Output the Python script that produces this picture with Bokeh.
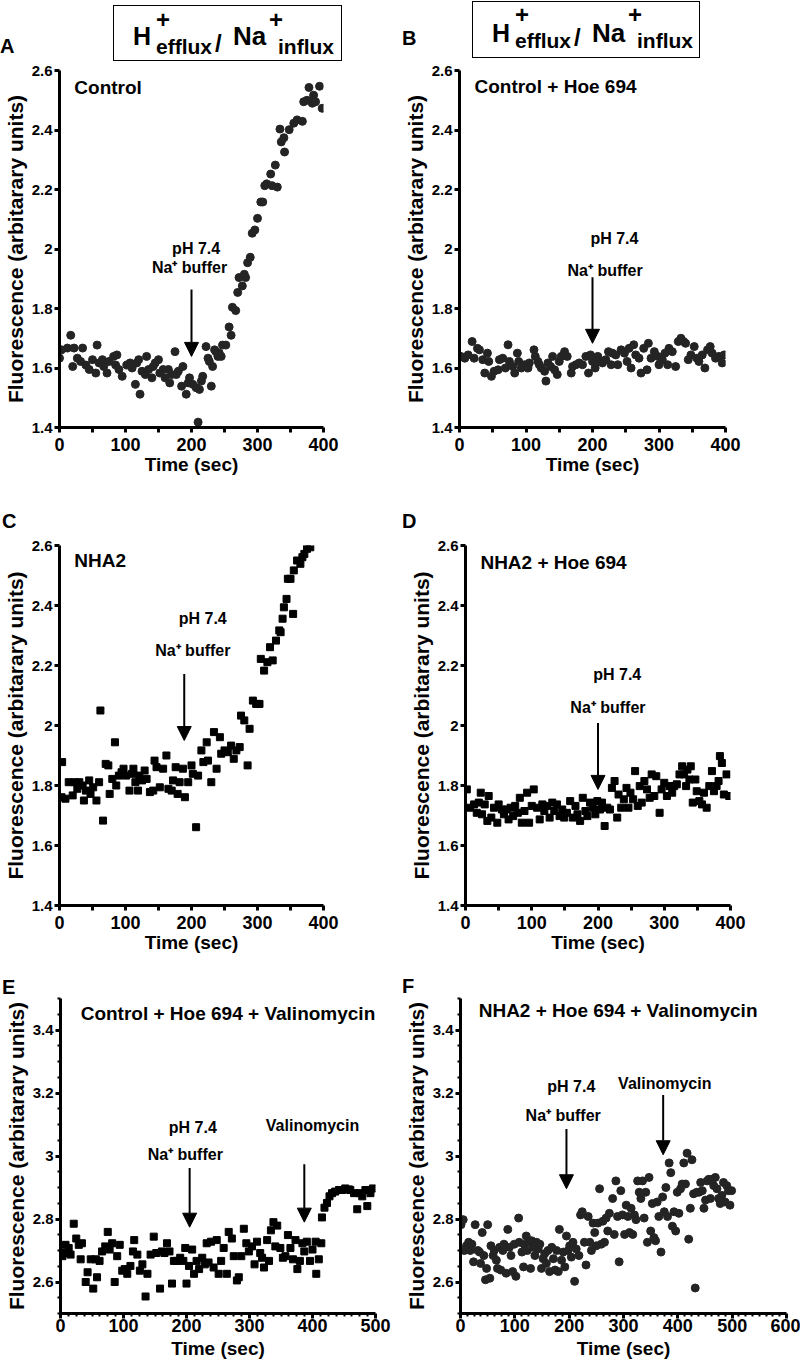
from bokeh.plotting import figure
from bokeh.layouts import row, column
from bokeh.models import Range1d, FixedTicker, CustomJSTickFormatter, Arrow, NormalHead, Div
from bokeh.core.properties import value
from bokeh.embed import file_html
from bokeh.resources import INLINE

FONT = "Liberation Sans"

# ---------------- data (time in s, fluorescence) ----------------
a_points = [(0,1.633),(3,1.661),(12,1.667),(17,1.71),(20,1.605),(22,1.667),(27,1.633),(32,1.622),(35,1.667),(40,1.61),
            (45,1.595),(50,1.628),(55,1.583),(57,1.677),(60,1.617),(65,1.628),(67,1.605),(72,1.583),(75,1.622),(82,1.639),
            (85,1.61),(87,1.644),(90,1.595),(95,1.572),(102,1.61),(107,1.617),(110,1.6),(115,1.545),(117,1.617),(120,1.628),
            (122,1.512),(125,1.589),(130,1.578),(132,1.639),(135,1.595),(140,1.567),(142,1.605),(145,1.617),(150,1.628),(152,1.583),
            (157,1.595),(160,1.567),(165,1.595),(167,1.55),(170,1.578),(175,1.655),(177,1.578),(180,1.589),(185,1.539),(187,1.605),
            (192,1.512),(195,1.55),(197,1.567),(202,1.545),(207,1.534),(210,1.418),(212,1.528),(215,1.556),(217,1.572),(222,1.672),
            (225,1.633),(227,1.622),(230,1.539),(232,1.605),(235,1.661),(237,1.655),(240,1.639),(242,1.65),(245,1.639),(247,1.677),
            (252,1.677),(257,1.738),(260,1.71),(262,1.804),(267,1.793),(270,1.854),(272,1.904),(277,1.876),(280,1.915),(282,1.904),
            (285,1.954),(289,1.972),(292,2.053),(296,2.064),(300,2.103),(305,2.158),(308,2.158),(311,2.213),(314,2.219),(320,2.252),
            (322,2.213),(327,2.282),(330,2.208),(334,2.403),(336,2.36),(340,2.374),(341,2.326),(348,2.401),(355,2.423),(360,2.434),
            (368,2.429),(370,2.495),(375,2.5),(378,2.543),(383,2.49),(385,2.517),(388,2.495),(394,2.547),(398,2.473)]

b_points = [(2,1.639),(8,1.633),(13,1.644),(19,1.689),(22,1.633),(27,1.666),(30,1.661),(35,1.628),(38,1.583),(42,1.65),
            (44,1.622),(48,1.572),(52,1.589),(58,1.594),(60,1.628),(65,1.633),(69,1.6),(73,1.678),(75,1.622),(80,1.605),
            (83,1.583),(87,1.65),(89,1.622),(93,1.6),(98,1.611),(103,1.6),(105,1.617),(112,1.661),(114,1.639),(118,1.622),
            (120,1.611),(123,1.6),(128,1.589),(130,1.556),(133,1.617),(137,1.605),(140,1.639),(143,1.594),(147,1.578),(150,1.622),
            (153,1.639),(158,1.655),(162,1.639),(168,1.583),(170,1.605),(175,1.611),(180,1.617),(185,1.611),(190,1.639),(194,1.583),
            (197,1.644),(200,1.622),(204,1.6),(208,1.639),(210,1.622),(215,1.617),(220,1.628),(224,1.655),(228,1.611),(230,1.65),
            (235,1.644),(238,1.611),(243,1.661),(248,1.65),(252,1.622),(255,1.666),(258,1.6),(262,1.678),(265,1.644),(270,1.633),
            (273,1.583),(277,1.666),(282,1.594),(284,1.683),(288,1.633),(293,1.655),(298,1.639),(300,1.611),(305,1.628),(309,1.65),
            (313,1.611),(315,1.666),(320,1.655),(325,1.605),(329,1.689),(333,1.7),(337,1.689),(340,1.683),(344,1.628),(348,1.644),
            (353,1.672),(357,1.633),(360,1.622),(365,1.644),(369,1.6),(373,1.661),(377,1.672),(380,1.65),(385,1.633),(390,1.639),
            (395,1.617),(398,1.644)]

c_points = [(4,1.878),(3,1.761),(9,1.756),(14,1.811),(20,1.767),(23,1.811),(27,1.789),(30,1.811),(35,1.8),(37,1.75),
            (40,1.783),(45,1.817),(47,1.772),(51,1.794),(56,1.75),(60,1.811),(62,2.05),(66,1.683),(70,1.872),(74,1.867),
            (76,1.772),(80,1.822),(84,1.944),(86,1.8),(90,1.833),(94,1.844),(97,1.856),(101,1.833),(106,1.783),(110,1.839),
            (112,1.856),(115,1.811),(119,1.783),(121,1.833),(125,1.817),(129,1.85),(132,1.822),(137,1.778),(142,1.783),(144,1.883),
            (147,1.861),(152,1.794),(157,1.856),(162,1.9),(165,1.789),(170,1.783),(172,1.817),(176,1.861),(179,1.772),(182,1.811),
            (187,1.856),(190,1.761),(195,1.811),(200,1.867),(202,1.839),(207,1.661),(210,1.833),(215,1.917),(218,1.878),(223,1.944),
            (225,1.883),(230,1.811),(234,1.978),(238,1.856),(243,1.961),(245,1.906),(250,1.917),(255,1.911),(260,1.933),(264,1.889),
            (268,1.917),(273,1.928),(275,2.033),(280,2.017),(285,1.867),(288,1.989),(293,2.083),(298,2.072),(303,2.072),(305,2.222),
            (310,2.183),(315,2.211),(319,2.261),(323,2.217),(328,2.283),(333,2.317),(335,2.311),(338,2.356),(340,2.394),(344,2.422),
            (346,2.489),(350,2.489),(354,2.372),(355,2.517),(360,2.55),(365,2.539),(368,2.561),(371,2.572),(375,2.589),(380,2.594)]

d_points = [(2,1.787),(7,1.726),(13,1.737),(17,1.709),(20,1.743),(23,1.776),(25,1.704),(29,1.737),(33,1.682),(35,1.765),
            (39,1.693),(43,1.726),(48,1.676),(50,1.737),(55,1.72),(58,1.704),(62,1.72),(65,1.687),(68,1.726),(72,1.698),
            (75,1.732),(79,1.709),(82,1.759),(85,1.676),(89,1.715),(93,1.776),(96,1.676),(100,1.732),(103,1.787),(108,1.726),
            (112,1.687),(116,1.737),(119,1.715),(123,1.732),(127,1.693),(131,1.743),(134,1.715),(138,1.737),(142,1.698),(146,1.72),
            (149,1.693),(153,1.709),(158,1.748),(162,1.693),(166,1.732),(169,1.704),(173,1.682),(177,1.759),(181,1.715),(184,1.698),
            (188,1.743),(192,1.726),(196,1.704),(199,1.748),(203,1.72),(206,1.743),(210,1.665),(214,1.726),(218,1.72),(221,1.792),
            (225,1.815),(229,1.693),(231,1.77),(235,1.726),(239,1.754),(243,1.792),(246,1.726),(249,1.776),(253,1.754),(256,1.848),
            (260,1.732),(263,1.798),(266,1.743),(270,1.815),(274,1.787),(278,1.759),(281,1.837),(285,1.765),(288,1.831),(293,1.709),
            (296,1.787),(300,1.809),(304,1.765),(308,1.798),(312,1.776),(315,1.798),(319,1.804),(323,1.837),(327,1.864),(330,1.837),
            (333,1.798),(335,1.853),(338,1.82),(340,1.864),(343,1.743),(347,1.82),(349,1.781),(353,1.748),(357,1.737),(360,1.776),
            (364,1.726),(368,1.798),(372,1.848),(375,1.781),(379,1.798),(382,1.815),(384,1.898),(387,1.875),(390,1.77),(394,1.837),
            (398,1.765)]

e_points = [(3,2.682),(5,2.692),(8,2.718),(13,2.708),(16,2.687),(21,2.785),(25,2.738),(29,2.718),(32,2.672),(34,2.723),
            (40,2.6),(43,2.631),(48,2.672),(52,2.579),(56,2.672),(58,2.615),(62,2.667),(66,2.697),(71,2.713),(75,2.759),
            (78,2.703),(82,2.723),(86,2.6),(90,2.682),(94,2.718),(98,2.636),(102,2.641),(106,2.626),(111,2.651),(115,2.697),
            (117,2.733),(122,2.687),(126,2.636),(130,2.656),(135,2.554),(138,2.626),(143,2.687),(148,2.744),(152,2.692),(158,2.579),
            (161,2.697),(165,2.692),(169,2.723),(173,2.697),(177,2.595),(180,2.667),(185,2.667),(190,2.677),(195,2.667),(198,2.708),
            (200,2.595),(204,2.651),(209,2.703),(212,2.626),(216,2.667),(220,2.641),(225,2.677),(229,2.656),(232,2.723),(235,2.662),
            (239,2.728),(243,2.646),(248,2.733),(251,2.626),(255,2.667),(259,2.708),(264,2.626),(267,2.759),(272,2.738),(275,2.682),
            (280,2.605),(283,2.615),(287,2.682),(291,2.769),(295,2.723),(299,2.697),(304,2.713),(308,2.656),(312,2.728),(317,2.692),
            (320,2.677),(323,2.646),(328,2.733),(331,2.667),(334,2.764),(338,2.79),(341,2.713),(344,2.779),(349,2.708),(353,2.677),
            (357,2.682),(361,2.749),(365,2.708),(369,2.672),(373,2.733),(376,2.641),(380,2.667),(384,2.723),(387,2.697),(391,2.728),
            (396,2.667),(400,2.703),(405,2.728),(406,2.626),(410,2.672),(414,2.723),(415,2.805),(419,2.836),(423,2.851),(427,2.872),
            (431,2.882),(436,2.887),(442,2.892),(447,2.892),(452,2.897),(458,2.894),(460,2.892),(466,2.882),(471,2.831),(475,2.882),
            (479,2.872),(484,2.892),(487,2.841),(492,2.882),(496,2.897)]

f_points = [(1,2.782),(5,2.798),(7,2.7),(11,2.715),(15,2.726),(18,2.7),(21,2.72),(24,2.664),(27,2.782),(32,2.7),
            (35,2.695),(37,2.659),(40,2.757),(43,2.684),(46,2.607),(48,2.643),(50,2.782),(54,2.612),(56,2.715),(60,2.684),
            (62,2.7),(66,2.669),(68,2.643),(72,2.71),(74,2.638),(78,2.7),(80,2.72),(84,2.628),(87,2.767),(90,2.71),
            (93,2.684),(96,2.633),(99,2.72),(102,2.618),(107,2.803),(108,2.726),(113,2.695),(116,2.648),(117,2.72),(121,2.746),
            (123,2.7),(127,2.726),(129,2.643),(131,2.731),(134,2.71),(137,2.684),(140,2.726),(143,2.705),(146,2.72),(149,2.643),
            (152,2.674),(155,2.69),(158,2.659),(161,2.7),(164,2.633),(168,2.71),(171,2.674),(174,2.638),(177,2.7),(180,2.633),
            (182,2.767),(186,2.669),(189,2.695),(192,2.648),(195,2.746),(198,2.7),(201,2.715),(204,2.679),(207,2.726),(210,2.602),
            (213,2.705),(218,2.684),(221,2.813),(224,2.823),(228,2.726),(231,2.654),(235,2.808),(238,2.726),(241,2.7),(244,2.787),
            (247,2.757),(250,2.715),(253,2.787),(256,2.896),(259,2.72),(262,2.793),(265,2.726),(268,2.803),(271,2.762),(274,2.818),
            (280,2.865),(283,2.751),(286,2.921),(289,2.808),(292,2.664),(295,2.89),(298,2.813),(302,2.751),(305,2.844),(308,2.808),
            (311,2.757),(314,2.834),(317,2.751),(320,2.813),(323,2.798),(326,2.921),(329,2.885),(332,2.865),(335,2.921),(338,2.803),
            (341,2.885),(344,2.726),(347,2.932),(350,2.762),(353,2.849),(356,2.741),(359,2.731),(362,2.854),(365,2.808),(369,2.695),
            (372,2.87),(375,2.823),(378,2.9),(381,2.808),(384,2.978),(387,2.947),(390,2.777),(393,2.823),(396,2.762),(399,2.885),
            (402,2.818),(405,2.896),(408,2.911),(411,2.978),(414,2.911),(417,3.009),(420,2.736),(423,2.834),(426,2.988),(429,2.88),
            (432,2.581),(435,2.885),(439,2.885),(442,2.916),(445,2.89),(448,2.834),(451,2.86),(454,2.921),(457,2.926),(460,2.865),
            (463,2.926),(466,2.906),(469,2.932),(472,2.896),(475,2.865),(478,2.849),(481,2.875),(484,2.916),(487,2.854),(490,2.906),
            (493,2.89),(496,2.844),(499,2.89)]

x_ticks_400 = [0, 100, 200, 300, 400]
x_minor_400 = [50, 150, 250, 350]
x_ticks_500 = [0, 100, 200, 300, 400, 500]
x_ticks_600 = [0, 100, 200, 300, 400, 500, 600]
y_ticks_low = [1.4, 1.6, 1.8, 2.0, 2.2, 2.4, 2.6]
y_ticks_high = [2.6, 2.8, 3.0, 3.2, 3.4]

Y_LABEL = "Fluorescence (arbitarary units)"
X_LABEL = "Time (sec)"


def split(points):
    return [p[0] for p in points], [p[1] for p in points]


def make_panel(w, h, l, r, t, b, x_end, y_lo, y_hi, xt, xminor, yt, yminor, fine):
    p = figure(width=w, height=h, x_range=Range1d(0, x_end), y_range=Range1d(y_lo, y_hi),
               min_border_left=l, min_border_right=r, min_border_top=t, min_border_bottom=b,
               title=None, toolbar_location=None, output_backend="svg")
    p.grid.visible = False
    p.outline_line_color = None
    p.background_fill_color = "white"
    p.border_fill_color = "white"
    xa = p.xaxis[0]
    ya = p.yaxis[0]
    xa.ticker = FixedTicker(ticks=xt, minor_ticks=xminor)
    ya.ticker = FixedTicker(ticks=yt, minor_ticks=yminor)
    ya.formatter = CustomJSTickFormatter(code="return String(Math.round(tick*100)/100);")
    for ax in (xa, ya):
        ax.axis_line_width = 3
        ax.axis_line_color = "black"
        ax.major_tick_line_width = 3
        ax.major_tick_line_color = "black"
        ax.major_tick_out = 5
        ax.major_tick_in = 0
        ax.minor_tick_in = 0
        ax.minor_tick_line_color = "black"
        ax.major_label_text_font = FONT
        ax.major_label_text_font_style = "bold"
        ax.major_label_text_color = "black"
        ax.axis_label_text_font = FONT
        ax.axis_label_text_font_style = "bold"
        ax.axis_label_text_color = "black"
    if fine:
        xa.minor_tick_out = 3
        xa.minor_tick_line_width = 2
        ya.minor_tick_out = 3
        ya.minor_tick_line_width = 2
        xa.major_label_standoff = 0
        xa.axis_label_standoff = 3
    else:
        xa.minor_tick_out = 5
        xa.minor_tick_line_width = 3
        xa.major_label_standoff = 5
        xa.axis_label_standoff = 0
    xa.major_label_text_font_size = "18px"
    ya.major_label_text_font_size = "15px"
    ya.major_label_standoff = 2
    xa.axis_label = X_LABEL
    ya.axis_label = Y_LABEL
    xa.axis_label_text_font_size = "19px"
    ya.axis_label_text_font_size = "21px"
    ya.axis_label_standoff = 2
    return p


def txt(p, x, y, s, size="16px", align="center"):
    p.text(x=[x], y=[y], text=[s], text_font=value(FONT), text_font_style="bold",
           text_font_size=size, text_align=align, text_baseline="middle", text_color="black")


def arrow(p, x, y0, y1):
    p.add_layout(Arrow(x_start=x, y_start=y0, x_end=x, y_end=y1, line_width=2, line_color="black",
                       end=NormalHead(size=14, fill_color="black", line_color="black")))


# --------- HTML helpers for texts that sit outside the plot frames ---------
def span(left, baseline, s, size, lh=1.0):
    top = baseline - size * (lh / 2 + 0.3465)
    return ('<span style="position:absolute;left:%.1fpx;top:%.1fpx;font-family:\'%s\';font-weight:bold;'
            'font-size:%dpx;line-height:%.2f;white-space:nowrap;color:black;">%s</span>'
            % (left, top, FONT, size, lh, s))


def plus(cx, cy, size):
    return span(cx - 0.292 * size, cy + 0.353 * size, "+", size, 0.7)


def header_html(bx, by, bw, bh, base_big, base_sub, plus_y):
    box = ('<div style="position:absolute;left:%dpx;top:%dpx;width:%dpx;height:%dpx;'
           'box-sizing:border-box;border:1.6px solid black;"></div>' % (bx, by, bw, bh))
    parts = [box,
             span(bx + 20, by + base_big, "H", 25),
             plus(bx + 50, by + plus_y, 24),
             span(bx + 43, by + base_sub, "efflux", 21),
             span(bx + 102, by + base_sub - 2, "/", 24),
             span(bx + 120, by + base_big, "Na", 26),
             plus(bx + 163, by + plus_y, 24),
             span(bx + 165, by + base_sub, "influx", 21)]
    return "".join(parts)


def strip(height, inner):
    html = '<div style="position:relative;width:800px;height:%dpx;">%s</div>' % (height, inner)
    return Div(text=html, width=800, height=height, margin=0)


div1 = strip(62, header_html(113, 5, 229, 56, 40, 49, 15.5) + header_html(472, 1, 228, 57, 41, 47, 14)
             + span(0, 53, "A", 20) + span(402, 45, "B", 20))
div2 = strip(42, span(2, 38, "C", 20) + span(402, 38, "D", 20))
div3 = strip(32, span(2, 31, "E", 20) + span(402, 30, "F", 20))

# ---------------- Row 1 ----------------
pA = make_panel(400, 428, 57, 77, 8, 58, 400, 1.4, 2.6, x_ticks_400, x_minor_400, y_ticks_low, [], False)
at, av = split(a_points)
pA.scatter(at, av, marker="circle", size=8, fill_color="#242424", line_color="#242424")
txt(pA, 22.5, 2.544, "Control", "19px", "left")
txt(pA, 207, 2.003, "pH 7.4")
txt(pA, 197, 1.937, "Na\u207a buffer")
arrow(pA, 200, 1.864, 1.639)

pB = make_panel(400, 428, 58, 75, 6, 63, 400, 1.4, 2.6, x_ticks_400, x_minor_400, y_ticks_low, [], False)
bt, bv = split(b_points)
pB.scatter(bt, bv, marker="circle", size=8, fill_color="#242424", line_color="#242424")
txt(pB, 22.5, 2.547, "Control + Hoe 694", "19px", "left")
txt(pB, 233, 2.035, "pH 7.4")
txt(pB, 219, 1.927, "Na\u207a buffer")
arrow(pB, 200, 1.905, 1.683)

# ---------------- Row 2 ----------------
pC = make_panel(400, 431, 57, 77, 13, 58, 400, 1.4, 2.6, x_ticks_400, x_minor_400, y_ticks_low, [], False)
ct, cv = split(c_points)
pC.scatter(ct, cv, marker="square", size=7, fill_color="black", line_color="black")
txt(pC, 22.5, 2.55, "NHA2", "19px", "left")
txt(pC, 217, 2.356, "pH 7.4")
txt(pC, 202, 2.25, "Na\u207a buffer")
arrow(pC, 189, 2.172, 1.95)

pD = make_panel(400, 431, 65, 70, 11, 58, 400, 1.4, 2.6, x_ticks_400, x_minor_400, y_ticks_low, [], False)
dt, dv = split(d_points)
pD.scatter(dt, dv, marker="square", size=7, fill_color="black", line_color="black")
txt(pD, 22.5, 2.545, "NHA2 + Hoe 694", "19px", "left")
txt(pD, 229, 2.169, "pH 7.4")
txt(pD, 215, 2.06, "Na\u207a buffer")
arrow(pD, 200, 2.008, 1.787)

# ---------------- Row 3 ----------------
minor_500 = [12.5 * k for k in range(41) if k % 8 != 0]
minor_600 = [12.5 * k for k in range(49) if k % 8 != 0]
minor_y_high = [round(2.5 + 0.05 * k, 2) for k in range(21) if k % 4 != 2]

pE = make_panel(400, 375, 60, 25, 3, 55, 500, 2.5, 3.5, x_ticks_500, minor_500, y_ticks_high, minor_y_high, True)
et, ev = split(e_points)
pE.scatter(et, ev, marker="square", size=7, fill_color="black", line_color="black")
txt(pE, 32, 3.451, "Control + Hoe 694 + Valinomycin", "19px", "left")
txt(pE, 210, 3.092, "pH 7.4")
txt(pE, 198, 3.005, "Na\u207a buffer")
arrow(pE, 205, 2.962, 2.774)
txt(pE, 400, 3.097, "Valinomycin")
arrow(pE, 387, 2.974, 2.79)

pF = make_panel(400, 375, 60, 14, 3, 57, 600, 2.5, 3.5, x_ticks_600, minor_600, y_ticks_high, minor_y_high, True)
ft, fv = split(f_points)
pF.scatter(ft, fv, marker="circle", size=8, fill_color="#242424", line_color="#242424")
txt(pF, 33.5, 3.462, "NHA2 + Hoe 694 + Valinomycin", "19px", "left")
txt(pF, 204, 3.22, "pH 7.4")
txt(pF, 189, 3.127, "Na\u207a buffer")
arrow(pF, 195, 3.086, 2.896)
txt(pF, 376, 3.23, "Valinomycin")
arrow(pF, 373, 3.194, 3.004)

layout = column(div1, row(pA, pB), div2, row(pC, pD), div3, row(pE, pF))

open("out.html", "w").write(file_html(layout, INLINE, title="Fluorescence panels"))
